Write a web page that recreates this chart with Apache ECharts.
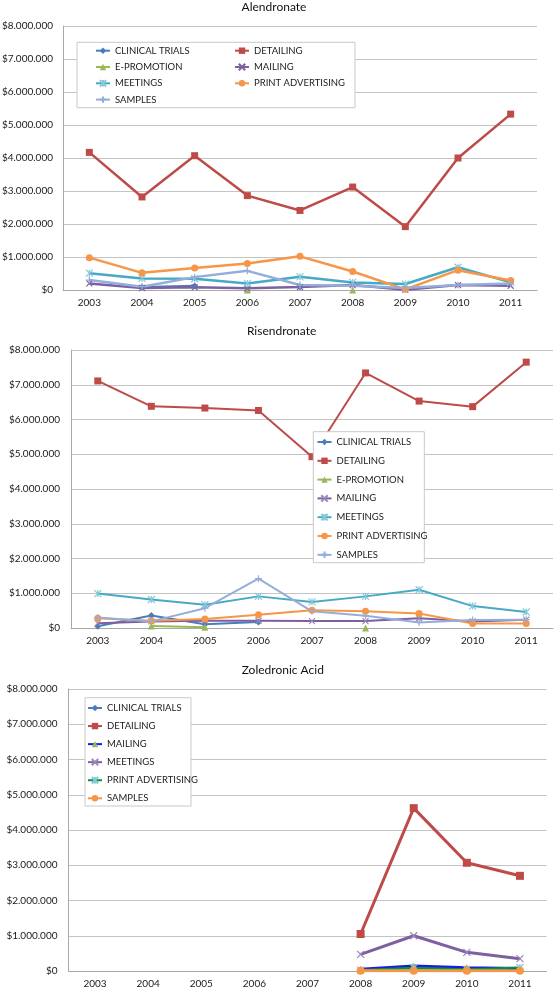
<!DOCTYPE html>
<html><head><meta charset="utf-8">
<script src="https://cdn.jsdelivr.net/npm/echarts@6/dist/echarts.min.js"></script>
<style>html,body{margin:0;padding:0;background:#fff;width:555px;height:992px;overflow:hidden}
.c{position:absolute;left:0;width:555px}</style></head>
<body>
<div id="c1" class="c" style="top:0;height:320px"></div>
<div id="c2" class="c" style="top:320px;height:330px"></div>
<div id="c3" class="c" style="top:650px;height:342px"></div>
<script>
// Categories and tick values (US$ millions)
const years = ['2003','2004','2005','2006','2007','2008','2009','2010','2011'];
const yMin = 0, yMax = 8, yStep = 1;

// Alendronate (US$ millions)
const alClinical = [null,0.08,0.12,null,0.10,null,null,null,null];
const alDetailing = [4.17,2.82,4.07,2.86,2.41,3.12,1.92,4.00,5.33];
const alEpromo = [null,null,null,0,null,0,null,null,null];
const alMailing = [0.20,0.06,0.08,0.05,0.09,0.15,0.01,0.15,0.13];
const alMeetings = [0.51,0.35,0.34,0.20,0.40,0.23,0.18,0.69,0.23];
const alPrint = [0.98,0.52,0.67,0.80,1.02,0.56,0.02,0.60,0.29];
const alSamples = [0.30,0.10,0.39,0.58,0.15,0.13,0.06,0.15,0.20];

// Risendronate (US$ millions)
const riClinical = [0.05,0.36,0.11,0.17,null,null,null,null,null];
const riDetailing = [7.11,6.38,6.33,6.26,4.93,7.34,6.53,6.37,7.65];
const riEpromo = [null,0.06,0.02,null,null,0,null,null,null];
const riMailing = [0.14,0.19,0.21,0.21,0.20,0.20,0.28,0.19,0.24];
const riMeetings = [0.99,0.82,0.67,0.91,0.75,0.91,1.10,0.63,0.46];
const riPrint = [0.28,0.21,0.26,0.38,0.51,0.48,0.42,0.13,0.13];
const riSamples = [0.30,0.19,0.57,1.42,0.48,0.35,0.16,0.23,0.24];

// Zoledronic Acid (US$ millions)
const zoClinical = [null,null,null,null,null,0.03,0.08,0.06,0.05];
const zoDetailing = [null,null,null,null,null,1.05,4.62,3.07,2.70];
const zoMailing = [null,null,null,null,null,0.05,0.14,0.09,0.07];
const zoMeetings = [null,null,null,null,null,0.47,1.00,0.53,0.35];
const zoPrint = [null,null,null,null,null,0.03,0.09,0.05,0.10];
const zoSamples = [null,null,null,null,null,0.01,0.01,0.01,0.01];

const FONT = 'Lato, "Open Sans", sans-serif';
const X_PATH = 'path://M0,0L10,10M10,0L0,10';
const AST_PATH = 'path://M0,0L10,10M10,0L0,10M5,0L5,10';
const PLUS_PATH = 'path://M5,0L5,10M0,5L10,5';

function fmt(v){
  if (v === 0) return '$0';
  return '$' + String(Math.round(v*1e6)).replace(/\B(?=(\d{3})+(?!\d))/g, '.');
}

function ser(name, data, lineColor, markColor, symbol, size, width, stroke){
  const s = {
    type:'line', name, data, symbol, symbolSize:size,
    lineStyle:{color:lineColor, width:width},
    itemStyle:{color:markColor},
    connectNulls:false, showAllSymbol:true, z:2,
    emphasis:{disabled:true}
  };
  if (stroke) { s.itemStyle.borderColor = markColor; s.itemStyle.borderWidth = 1.2; }
  return s;
}

function build(cfg){
  const legends = cfg.legends.map(l => ({
    data:l.data, orient:'vertical', left:l.left, top:l.top, padding:0,
    itemGap:l.gap, itemWidth:14, itemHeight:8, selectedMode:false, z:5,
    textStyle:{fontFamily:FONT, fontSize:9.5, lineHeight:12, color:'#1a1a1a'}
  }));
  return {
    animation:false,
    graphic:[
      {type:'text', x:cfg.title.x, y:cfg.title.y, silent:true,
       style:{text:cfg.title.text, fill:'#111', fontFamily:FONT, fontSize:12, align:'center', verticalAlign:'middle'}},
      {type:'rect', z:3, silent:true,
       shape:{x:cfg.box[0], y:cfg.box[1], width:cfg.box[2], height:cfg.box[3]},
       style:{fill:'#fff', stroke:'#C9C9C9', lineWidth:1}}
    ],
    legend:legends,
    grid:{left:cfg.grid[0], right:cfg.grid[1], top:cfg.grid[2], bottom:cfg.grid[3], containLabel:false, outerBoundsMode:'none'},
    xAxis:{type:'category', data:years, boundaryGap:true,
      axisLine:{lineStyle:{color:'#A8A8A8', width:1}}, axisTick:{show:false},
      axisLabel:{fontFamily:FONT, fontSize:10, color:'#1a1a1a', margin:8}},
    yAxis:{type:'value', min:yMin, max:yMax, interval:yStep,
      axisLine:{show:true, lineStyle:{color:'#A8A8A8', width:1}}, axisTick:{show:false},
      splitLine:{lineStyle:{color:'#C4C4C4', width:1}},
      axisLabel:{fontFamily:FONT, fontSize:10, color:'#1a1a1a', margin:cfg.ymargin, formatter:fmt}},
    series:cfg.series
  };
}

const C_BLUE='#4A7EBB', C_RED='#BE4B48', C_GREEN='#98B954', C_PURPLE='#7D60A0',
      C_AQUA='#46AAC5', C_AQUAM='#86C9DC', C_ORANGE='#F79646', C_LBLUE='#95ADDA';

const opt1 = build({
  title:{text:'Alendronate', x:274, y:7},
  box:[77,42.3,278,65.4],
  grid:[63,18,26,30], ymargin:10,
  legends:[
    {data:['CLINICAL TRIALS','E-PROMOTION','MEETINGS','SAMPLES'], left:95, top:44.7, gap:4.3},
    {data:['DETAILING','MAILING','PRINT ADVERTISING'], left:234, top:44.7, gap:4.3}
  ],
  series:[
    ser('CLINICAL TRIALS', alClinical, C_BLUE, C_BLUE, 'diamond', 7, 2.5),
    ser('DETAILING', alDetailing, C_RED, C_RED, 'rect', 7, 2.5),
    ser('E-PROMOTION', alEpromo, C_GREEN, C_GREEN, 'triangle', 7, 2.5),
    ser('MAILING', alMailing, C_PURPLE, C_PURPLE, X_PATH, 6, 2.5, true),
    ser('MEETINGS', alMeetings, C_AQUA, C_AQUAM, AST_PATH, 7, 2.5, true),
    ser('PRINT ADVERTISING', alPrint, C_ORANGE, C_ORANGE, 'circle', 7, 2.5),
    ser('SAMPLES', alSamples, C_LBLUE, C_LBLUE, PLUS_PATH, 7, 2.5, true)
  ]
});

const opt2 = build({
  title:{text:'Risendronate', x:281.6, y:11},
  box:[313.3,111.7,111,131],
  grid:[71,2,30,22], ymargin:11,
  legends:[
    {data:['CLINICAL TRIALS','DETAILING','E-PROMOTION','MAILING','MEETINGS','PRINT ADVERTISING','SAMPLES'], left:316.5, top:116, gap:6.8}
  ],
  series:[
    ser('CLINICAL TRIALS', riClinical, C_BLUE, C_BLUE, 'diamond', 7, 2),
    ser('DETAILING', riDetailing, C_RED, C_RED, 'rect', 7, 2),
    ser('E-PROMOTION', riEpromo, C_GREEN, C_GREEN, 'triangle', 7, 2),
    ser('MAILING', riMailing, C_PURPLE, '#9A86BA', X_PATH, 6, 2, true),
    ser('MEETINGS', riMeetings, C_AQUA, C_AQUAM, AST_PATH, 7, 2, true),
    ser('PRINT ADVERTISING', riPrint, C_ORANGE, C_ORANGE, 'circle', 7, 2),
    ser('SAMPLES', riSamples, C_LBLUE, C_LBLUE, PLUS_PATH, 7, 2, true)
  ]
});

const opt3 = build({
  title:{text:'Zoledronic Acid', x:282.8, y:20},
  box:[85,47.7,106,108.3],
  grid:[68.5,8.5,39,21], ymargin:11,
  legends:[
    {data:['CLINICAL TRIALS','DETAILING','MAILING','MEETINGS','PRINT ADVERTISING','SAMPLES'], left:87, top:52, gap:6.06}
  ],
  series:[
    ser('CLINICAL TRIALS', zoClinical, C_BLUE, C_BLUE, 'diamond', 7, 2.5),
    ser('DETAILING', zoDetailing, C_RED, C_RED, 'rect', 8, 3),
    ser('MAILING', zoMailing, '#1A1AE6', C_GREEN, 'triangle', 7, 3),
    ser('MEETINGS', zoMeetings, C_PURPLE, '#9A86BA', X_PATH, 7, 3, true),
    ser('PRINT ADVERTISING', zoPrint, '#00963C', C_AQUAM, AST_PATH, 7, 2, true),
    ser('SAMPLES', zoSamples, C_ORANGE, C_ORANGE, 'circle', 8, 3)
  ]
});

echarts.init(document.getElementById('c1')).setOption(opt1);
echarts.init(document.getElementById('c2')).setOption(opt2);
echarts.init(document.getElementById('c3')).setOption(opt3);
</script>
</body></html>
